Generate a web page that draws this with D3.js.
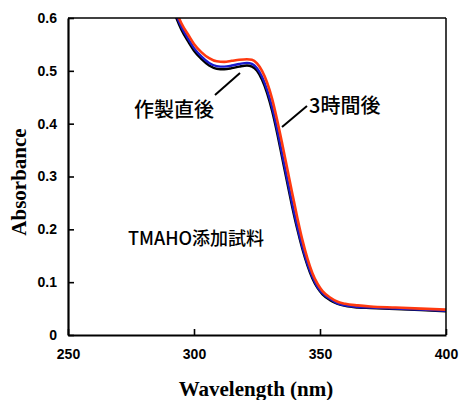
<!DOCTYPE html>
<html><head><meta charset="utf-8">
<script src="https://cdn.jsdelivr.net/npm/d3@7"></script>
<style>body{margin:0;background:#fff}svg{display:block}</style>
</head><body>
<svg id="c" width="459" height="400"></svg>
<script>
const xTicks = [250, 300, 350, 400];
const yTicks = [0, 0.1, 0.2, 0.3, 0.4, 0.5, 0.6];
const wavelengths = [290,293,295,298,300,303,306,309,312,315,318,321,323,325,327,329,331,333,335,337,339,341,343,345,347,349,351,354,357,360,365,370,380,390,400];
const blackVals = [0.64,0.60,0.578,0.553,0.538,0.522,0.510,0.504,0.503,0.505,0.508,0.510,0.508,0.500,0.483,0.458,0.424,0.382,0.335,0.288,0.242,0.200,0.163,0.132,0.107,0.089,0.077,0.066,0.059,0.055,0.052,0.051,0.049,0.047,0.045];
const blueVals  = [0.645,0.605,0.583,0.558,0.543,0.527,0.515,0.509,0.508,0.510,0.513,0.515,0.513,0.505,0.489,0.464,0.431,0.389,0.342,0.295,0.248,0.205,0.167,0.135,0.110,0.091,0.079,0.068,0.060,0.056,0.053,0.052,0.050,0.048,0.046];
const redVals   = [0.655,0.612,0.590,0.566,0.551,0.535,0.524,0.518,0.517,0.519,0.521,0.522,0.521,0.514,0.500,0.478,0.447,0.407,0.362,0.315,0.268,0.222,0.180,0.145,0.117,0.097,0.083,0.071,0.063,0.059,0.056,0.054,0.052,0.050,0.048];
const seriesNames = ["作製直後", "中間", "3時間後"];
const seriesColors = ["#000000", "#1a1acc", "#ff3a10"];
const annotations = ["作製直後", "3時間後", "TMAHO添加試料"];

const svg = d3.select("#c");
const m = {l:68, r:13, t:18, b:65};
const W = 459, H = 400;
const x = d3.scaleLinear().domain([250,400]).range([m.l, W-m.r]);
const y = d3.scaleLinear().domain([0,0.6]).range([H-m.b, m.t]);

svg.append("defs").append("clipPath").attr("id","clip")
  .append("rect").attr("x", m.l).attr("y", m.t).attr("width", W-m.r-m.l).attr("height", H-m.b-m.t);

const seriesVals = [blackVals, blueVals, redVals];
const line = d3.line().x((d,i)=>x(wavelengths[i])).y(d=>y(d)).curve(d3.curveMonotoneX);
const g = svg.append("g").attr("clip-path","url(#clip)");
seriesVals.forEach((vals,k)=>{
  g.append("path").datum(vals).attr("d", line).attr("fill","none")
   .attr("stroke", seriesColors[k]).attr("stroke-width", k===2?2.6:2.4);
});

// frame
svg.append("line").attr("x1",m.l).attr("x2",W-m.r).attr("y1",m.t).attr("y2",m.t).attr("stroke","#000").attr("stroke-width",1.5);
svg.append("line").attr("x1",W-m.r).attr("x2",W-m.r).attr("y1",m.t).attr("y2",H-m.b).attr("stroke","#000").attr("stroke-width",1.5);

const fontTick = "Liberation Sans, Arial, sans-serif";
const xAxis = svg.append("g").attr("transform",`translate(0,${H-m.b})`)
  .call(d3.axisBottom(x).tickValues(xTicks).tickSizeInner(-6).tickSizeOuter(0).tickPadding(14).tickFormat(d3.format("d")));
const yAxis = svg.append("g").attr("transform",`translate(${m.l},0)`)
  .call(d3.axisLeft(y).tickValues(yTicks).tickSizeInner(-6).tickSizeOuter(0).tickPadding(11).tickFormat(d=> d===0?"0":d3.format(".1f")(d)));
[xAxis,yAxis].forEach(a=>{
  a.select(".domain").attr("stroke","#000").attr("stroke-width",2.2);
  a.selectAll(".tick line").attr("stroke","#000").attr("stroke-width",1.6);
  a.selectAll(".tick text").attr("fill","#000").style("font-family",fontTick).style("font-size","14px").style("font-weight","bold");
});

// axis titles
svg.append("text").attr("x", 256).attr("y", 396).attr("text-anchor","middle")
  .style("font-family","Liberation Serif, Times New Roman, serif").style("font-weight","bold").style("font-size","21px").text("Wavelength (nm)");
svg.append("text").attr("transform",`translate(26,182) rotate(-90)`).attr("text-anchor","middle")
  .style("font-family","Liberation Serif, Times New Roman, serif").style("font-weight","bold").style("font-size","21px").text("Absorbance");

const cjk = "'Noto Sans CJK JP', sans-serif";
svg.append("text").attr("x",134).attr("y",117).style("font-family",cjk).style("font-weight","500").style("font-size","20px").text(annotations[0]);
svg.append("text").attr("x",309).attr("y",113).style("font-family",cjk).style("font-weight","500").style("font-size","20px").text(annotations[1]);
svg.append("text").attr("x",128).attr("y",245).style("font-family",cjk).style("font-weight","500").style("font-size","18px").text(annotations[2]);
svg.append("line").attr("x1",215).attr("y1",95).attr("x2",240).attr("y2",73).attr("stroke","#000").attr("stroke-width",2);
svg.append("line").attr("x1",307).attr("y1",106).attr("x2",282).attr("y2",127).attr("stroke","#000").attr("stroke-width",2);
</script>
</body></html>
